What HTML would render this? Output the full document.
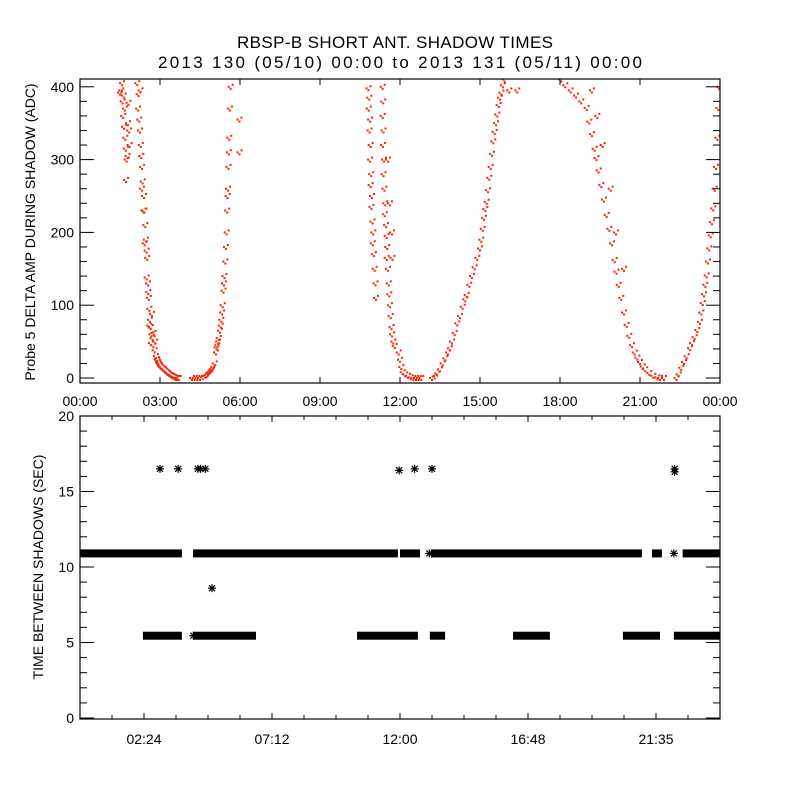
<!DOCTYPE html>
<html><head><meta charset="utf-8"><style>
html,body{margin:0;padding:0;background:#fff;}
svg{display:block;font-family:"Liberation Sans",sans-serif;}
</style></head><body>
<svg id="chart" width="800" height="800" viewBox="0 0 800 800" xmlns="http://www.w3.org/2000/svg">
<rect width="800" height="800" fill="#fff"/>
<text x="237" y="48" font-size="17" textLength="316" lengthAdjust="spacing">RBSP-B SHORT ANT. SHADOW TIMES</text>
<text x="158" y="68" font-size="17" textLength="484" lengthAdjust="spacing">2013 130 (05/10) 00:00 to 2013 131 (05/11) 00:00</text>
<g id="topPanel"></g>
<g id="botPanel"></g>
</svg>
<script>
// ---- top panel data: [hour, ADC] ----
const trackE1 = [[1.5,392],[1.55,395],[1.58,405],[1.6,380],[1.62,360],[1.64,388],[1.65,345],[1.68,370],[1.7,330],[1.72,315],[1.73,272],[1.75,300],[1.78,305],[1.8,350],[1.82,378],[1.84,340],[1.86,320]];
const trackE2 = [[2.15,405],[2.2,390],[2.18,370],[2.22,355],[2.25,340],[2.28,320],[2.3,305],[2.27,395],[2.33,290],[2.32,260],[2.35,270],[2.4,250],[2.38,230],[2.42,230],[2.45,210],[2.43,185],[2.47,190],[2.5,175],[2.52,165],[2.5,138],[2.55,130],[2.56,118],[2.58,110],[2.6,95],[2.62,80],[2.6,72],[2.65,70],[2.68,60],[2.7,88],[2.72,55],[2.66,48],[2.75,45],[2.76,62],[2.8,38],[2.82,50],[2.85,30],[2.88,26],[2.9,25],[2.93,22],[2.95,20],[2.98,18],[3.0,17],[3.05,15],[3.1,13],[3.15,12],[3.2,10],[3.25,8],[3.3,7],[3.35,5],[3.4,4],[3.45,3],[3.5,2],[3.55,1],[3.6,0],[3.65,0],[3.7,0]];
const trackF = [[4.2,0],[4.3,0],[4.4,0],[4.5,0],[4.6,1],[4.7,3],[4.75,4],[4.8,6],[4.85,8],[4.9,10],[4.95,12],[5.0,15],[5.05,20],[5.1,35],[5.12,42],[5.15,45],[5.18,50],[5.2,55],[5.25,65],[5.28,72],[5.3,80],[5.33,90],[5.35,100],[5.38,120],[5.4,130],[5.42,140],[5.45,160],[5.47,180],[5.5,200],[5.52,230],[5.53,250],[5.55,260],[5.57,290],[5.58,310],[5.6,330],[5.62,370],[5.65,400],[5.98,355],[5.98,310]];
const trackA = [[10.82,398],[10.85,385],[10.83,370],[10.88,355],[10.86,340],[10.9,320],[10.88,300],[10.92,280],[10.9,265],[10.95,250],[10.93,235],[10.97,215],[11.0,200],[10.98,185],[11.02,170],[11.05,150],[11.08,130],[11.1,110],[11.35,400],[11.37,380],[11.35,360],[11.38,340],[11.36,320],[11.4,300],[11.38,280],[11.42,260],[11.45,240],[11.43,225],[11.48,210],[11.5,195],[11.52,180],[11.5,165],[11.55,150],[11.58,130],[11.6,115],[11.62,100],[11.65,85],[11.68,70],[11.7,60],[11.75,50],[11.8,44],[11.62,240],[11.7,200],[11.72,165],[11.55,300],[11.95,35],[12.0,25],[12.05,15],[12.1,8],[12.2,5],[12.3,3],[12.4,1],[12.5,0],[12.6,0],[12.7,0],[12.8,0]];
const trackB = [[13.2,0],[13.3,2],[13.4,6],[13.5,12],[13.6,20],[13.7,27],[13.8,35],[13.87,41],[13.95,50],[14.05,62],[14.15,75],[14.25,85],[14.35,98],[14.45,108],[14.5,114],[14.6,128],[14.7,140],[14.8,152],[14.9,165],[15.0,178],[15.05,190],[15.1,205],[15.15,220],[15.2,232],[15.25,242],[15.3,258],[15.35,275],[15.4,290],[15.45,308],[15.5,325],[15.55,338],[15.6,350],[15.65,362],[15.7,375],[15.75,385],[15.8,392],[15.86,402],[15.92,410],[16.1,395],[16.4,395]];
const trackC = [[18.05,410],[18.2,402],[18.4,395],[18.6,388],[18.8,380],[19.0,371],[19.1,352],[19.2,335],[19.3,315],[19.37,302],[19.45,285],[19.55,265],[19.65,245],[19.75,224],[19.85,205],[19.95,185],[20.05,162],[20.12,146],[20.2,128],[20.3,110],[20.4,90],[20.5,73],[20.6,58],[20.7,45],[20.8,35],[20.9,28],[21.0,22],[21.1,16],[21.2,12],[21.35,7],[21.5,3],[21.65,1],[21.75,0],[19.2,395],[19.4,360],[19.6,320],[19.9,260],[20.1,200],[20.4,150],[21.9,0]];
const trackD = [[22.37,0],[22.45,5],[22.55,14],[22.65,22],[22.75,30],[22.88,41],[22.95,48],[23.05,56],[23.15,66],[23.25,77],[23.3,90],[23.35,103],[23.4,115],[23.45,128],[23.5,141],[23.55,160],[23.6,178],[23.65,196],[23.7,214],[23.75,233],[23.8,260],[23.85,290],[23.9,330],[23.94,371],[23.97,400]];
const topTracks = [trackE1, trackE2, trackF, trackA, trackB, trackC, trackD];
const topXTicks = ["00:00","03:00","06:00","09:00","12:00","15:00","18:00","21:00","00:00"];
const topYTicks = [0,100,200,300,400];

// ---- bottom panel data ----
const bands = [[0,3.82,10.9],[4.24,11.92,10.9],[12.0,12.75,10.9],[13.16,21.07,10.9],[21.45,21.82,10.9],[22.6,24,10.9],
 [2.36,3.82,5.45],[4.24,6.6,5.45],[10.39,12.67,5.45],[13.12,13.69,5.45],[16.24,17.62,5.45],[20.36,21.75,5.45],[22.27,24,5.45]];
const stars = [[3.0,16.5],[3.68,16.5],[4.42,16.5],[4.52,16.5],[4.7,16.5],[4.95,8.6],[11.97,16.4],[12.55,16.5],[13.2,16.5],[22.3,16.5],[22.3,16.3],[22.27,10.9],[13.1,10.9],[4.25,5.45]];
const botXTicks = ["02:24","07:12","12:00","16:48","21:35"];
const botYTicks = [0,5,10,15,20];

const NS="http://www.w3.org/2000/svg";
function mk(parent,tag,attrs){const e=document.createElementNS(NS,tag);for(const k in attrs)e.setAttribute(k,attrs[k]);parent.appendChild(e);return e;}
const TL=80,TR=720,TT=79,TB=383;
const xT=h=>TL+h*(TR-TL)/24;
const yT=v=>378-v*0.728;
const topG=document.getElementById('topPanel');
const clip=mk(document.querySelector('svg'),'clipPath',{id:'tc'});
mk(clip,'rect',{x:TL,y:TT,width:TR-TL,height:TB-TT});
const pts=mk(topG,'g',{'clip-path':'url(#tc)'});


topTracks.forEach(tr=>tr.forEach(p=>{
  const x=xT(p[0]),y=yT(p[1]);
  [[-2,0],[2,-2],[0,2]].forEach(o=>{
    const r=mk(pts,'rect',{x:(x+o[0]-1).toFixed(1),y:(y+o[1]-1).toFixed(1),width:2,height:2,fill:'#ff2200'});
    
    
  });
}));
mk(topG,'rect',{x:TL,y:TT,width:TR-TL,height:TB-TT,fill:'none',stroke:'#000','stroke-width':1.2});
for(let v=0;v<=400;v+=20){const y=yT(v),L=(v%100===0)?14:7;
 mk(topG,'line',{x1:TL,x2:TL+L,y1:y,y2:y,stroke:'#000'});mk(topG,'line',{x1:TR,x2:TR-L,y1:y,y2:y,stroke:'#000'});}
topYTicks.forEach(v=>{const t=mk(topG,'text',{x:TL-6,y:yT(v)+5,'font-size':14,'text-anchor':'end'});t.textContent=v;
 
 });
topXTicks.forEach((s,i)=>{const x=xT(i*3);
 mk(topG,'line',{x1:x,x2:x,y1:TB,y2:TB-6,stroke:'#000'});mk(topG,'line',{x1:x,x2:x,y1:TT,y2:TT+6,stroke:'#000'});
 const t=mk(topG,'text',{x:x,y:406,'font-size':14,'text-anchor':'middle'});t.textContent=s;
 
 });
const yt1=mk(topG,'text',{x:0,y:0,'font-size':14,'text-anchor':'middle',transform:'translate(35,232) rotate(-90)'});
yt1.textContent='Probe 5 DELTA AMP DURING SHADOW (ADC)';



const BL=80,BR=720,BT=416,BB=719;
const xB=h=>BL+h*(BR-BL)/24;
const yB=v=>718-v*15.1;
const botG=document.getElementById('botPanel');
bands.forEach(b=>{const r=mk(botG,'rect',{x:xB(b[0]),y:yB(b[2])-4,width:Math.max(2,xB(b[1])-xB(b[0])),height:8,fill:'#000'});
 
 });
stars.forEach(s=>{const x=xB(s[0]),y=yB(s[1]);const g=mk(botG,'g',{stroke:'#000','stroke-width':1.2});
 
 
 mk(g,'line',{x1:x-4,x2:x+4,y1:y,y2:y});mk(g,'line',{x1:x,x2:x,y1:y-4,y2:y+4});
 mk(g,'line',{x1:x-3,x2:x+3,y1:y-3,y2:y+3});mk(g,'line',{x1:x-3,x2:x+3,y1:y+3,y2:y-3});});
mk(botG,'rect',{x:BL,y:BT,width:BR-BL,height:BB-BT,fill:'none',stroke:'#000','stroke-width':1.2});
for(let v=0;v<=20;v++){const y=yB(v),L=(v%5===0)?14:7;
 mk(botG,'line',{x1:BL,x2:BL+L,y1:y,y2:y,stroke:'#000'});mk(botG,'line',{x1:BR,x2:BR-L,y1:y,y2:y,stroke:'#000'});}
botYTicks.forEach(v=>{const t=mk(botG,'text',{x:BL-6,y:yB(v)+5,'font-size':14,'text-anchor':'end'});t.textContent=v;
 
 });
for(let i=1;i<20;i++){const x=xB(i*1.2),L=(i%4===2)?6:4;
 mk(botG,'line',{x1:x,x2:x,y1:BB,y2:BB-L,stroke:'#000'});mk(botG,'line',{x1:x,x2:x,y1:BT,y2:BT+L,stroke:'#000'});}
botXTicks.forEach((s,i)=>{const x=xB(2.4+i*4.8);
 const t=mk(botG,'text',{x:x,y:744,'font-size':14,'text-anchor':'middle'});t.textContent=s;
 
 });
const yt2=mk(botG,'text',{x:0,y:0,'font-size':14,'text-anchor':'middle',transform:'translate(43,567) rotate(-90)'});
yt2.textContent='TIME BETWEEN SHADOWS (SEC)';


</script>
</body></html>
